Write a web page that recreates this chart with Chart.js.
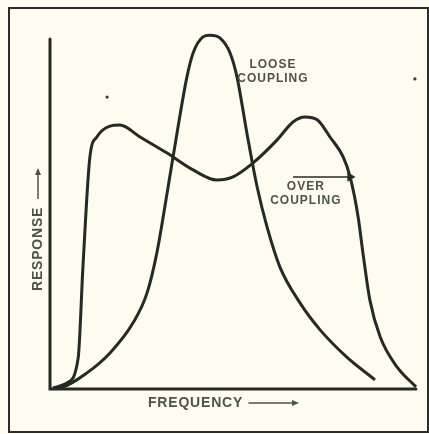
<!DOCTYPE html>
<html>
<head>
<meta charset="utf-8">
<script src="https://cdn.jsdelivr.net/npm/chart.js@4/dist/chart.umd.min.js"></script>
<style>
  html, body { margin: 0; padding: 0; background: #fcfcf1; }
  #wrap { position: relative; width: 429px; height: 434px; }
  #frame {
    position: absolute; left: 8px; top: 7px; width: 417px; height: 422px;
    border: 2px solid #2b2e27; pointer-events: none;
  }
  canvas { position: absolute; left: 0; top: 0; }
</style>
</head>
<body>
<div id="wrap">
  <canvas id="resp" width="429" height="434"></canvas>
  <div id="frame"></div>
</div>
<script>
// frequency (0-100 across the baseline) vs response (0-100 up the axis)
const looseFreq = [0.8, 3.6, 10.1, 16.4, 22.7, 26.5, 29.2, 32.0, 34.7, 37.4, 39.1, 41.8, 43.7, 46.4, 49.2, 51.1, 53.8, 56.6, 59.3, 62.8, 68.3, 73.8, 81.1, 88.8];
const looseResp = [0.3, 0.6, 4.6, 10.3, 18.9, 27.4, 38.9, 56.0, 73.1, 89.1, 96.0, 100.6, 101.1, 100.3, 96.0, 89.1, 73.1, 57.7, 46.3, 34.9, 24.6, 16.9, 9.1, 2.6];

const overFreq = [0.8, 4.6, 7.7, 9.0, 10.9, 12.8, 16.4, 19.1, 24.6, 32.0, 39.1, 45.6, 50.0, 55.5, 62.0, 66.4, 69.7, 73.0, 76.5, 80.1, 82.0, 84.2, 85.5, 87.4, 90.2, 94.8, 100];
const overResp = [0.3, 1.7, 8.9, 34.9, 66.3, 72.0, 75.1, 75.4, 72.0, 67.4, 62.6, 59.7, 60.6, 64.6, 71.1, 76.3, 77.7, 76.9, 72.0, 66.3, 60.6, 49.1, 38.9, 25.4, 14.9, 6.3, 0.6];

// pointer from the label to the over-coupled curve
const pointerFreq = [66.4, 82.0];
const pointerResp = [60.6, 60.6];

// stray ink specks on the sheet
const speckFreq = [15.6, 99.7];
const speckResp = [83.4, 88.6];

const curveLabels = [
  { lines: ['LOOSE', 'COUPLING'], freq: 60.9, resp: 92.6 },
  { lines: ['OVER', 'COUPLING'], freq: 69.9, resp: 57.7 }
];

const INK = '#272a23';
const LETTER = '#4f5347';

const toPoints = (xs, ys) => xs.map((x, i) => ({ x, y: ys[i] }));

function arrowHead(ctx, x, y, dir) {
  // dir: 'right' or 'up'
  ctx.beginPath();
  if (dir === 'right') {
    ctx.moveTo(x, y);
    ctx.lineTo(x - 7, y - 3);
    ctx.lineTo(x - 7, y + 3);
  } else {
    ctx.moveTo(x, y);
    ctx.lineTo(x - 3, y + 7);
    ctx.lineTo(x + 3, y + 7);
  }
  ctx.closePath();
  ctx.fill();
}

const lettering = {
  id: 'lettering',
  afterDatasetsDraw(chart) {
    const { ctx, chartArea: a, scales: { x, y } } = chart;
    ctx.save();

    // axes
    ctx.strokeStyle = INK;
    ctx.lineWidth = 3;
    ctx.lineCap = 'round';
    ctx.beginPath();
    ctx.moveTo(a.left, a.top);
    ctx.lineTo(a.left, a.bottom);
    ctx.lineTo(a.right, a.bottom);
    ctx.stroke();

    // curve names
    ctx.fillStyle = LETTER;
    ctx.font = 'bold 12px "Liberation Sans", Arial, sans-serif';
    ctx.letterSpacing = '1px';
    ctx.textAlign = 'center';
    ctx.textBaseline = 'middle';
    curveLabels.forEach(l => {
      const px = x.getPixelForValue(l.freq);
      const py = y.getPixelForValue(l.resp);
      l.lines.forEach((t, i) => ctx.fillText(t, px, py + i * 14));
    });

    // axis names with arrows
    ctx.font = 'bold 14px "Liberation Sans", Arial, sans-serif';
    ctx.letterSpacing = '0.8px';
    ctx.textAlign = 'left';
    ctx.fillText('FREQUENCY', 148, 403);
    ctx.strokeStyle = LETTER;
    ctx.lineWidth = 1.5;
    ctx.beginPath();
    ctx.moveTo(249, 403);
    ctx.lineTo(292, 403);
    ctx.stroke();
    arrowHead(ctx, 299, 403, 'right');

    ctx.translate(38, 291);
    ctx.rotate(-Math.PI / 2);
    ctx.fillText('RESPONSE', 0, 0);
    ctx.restore();

    ctx.save();
    ctx.fillStyle = LETTER;
    ctx.strokeStyle = LETTER;
    ctx.lineWidth = 1.5;
    ctx.beginPath();
    ctx.moveTo(38, 199);
    ctx.lineTo(38, 174);
    ctx.stroke();
    arrowHead(ctx, 38, 168, 'up');
    ctx.restore();
  }
};

new Chart(document.getElementById('resp'), {
  type: 'line',
  data: {
    datasets: [
      {
        label: 'Loose coupling',
        data: toPoints(looseFreq, looseResp),
        borderColor: INK,
        borderWidth: 3,
        pointRadius: 0,
        cubicInterpolationMode: 'monotone',
        clip: false
      },
      {
        label: 'Over coupling',
        data: toPoints(overFreq, overResp),
        borderColor: INK,
        borderWidth: 3,
        pointRadius: 0,
        cubicInterpolationMode: 'monotone',
        clip: false
      },
      {
        label: 'pointer',
        data: toPoints(pointerFreq, pointerResp),
        borderColor: INK,
        backgroundColor: INK,
        borderWidth: 1.5,
        pointStyle: 'triangle',
        pointRotation: 90,
        pointRadius: [0, 4],
        clip: false
      },
      {
        label: 'specks',
        type: 'scatter',
        data: toPoints(speckFreq, speckResp),
        backgroundColor: '#3a3d33',
        borderWidth: 0,
        pointRadius: 1.6,
        clip: false
      }
    ]
  },
  options: {
    responsive: false,
    animation: false,
    events: [],
    layout: { padding: { left: 50, top: 39, right: 13, bottom: 45 } },
    plugins: { legend: { display: false }, tooltip: { enabled: false } },
    scales: {
      x: { type: 'linear', min: 0, max: 100, display: false },
      y: { type: 'linear', min: 0, max: 100, display: false }
    }
  },
  plugins: [lettering]
});
</script>
</body>
</html>
